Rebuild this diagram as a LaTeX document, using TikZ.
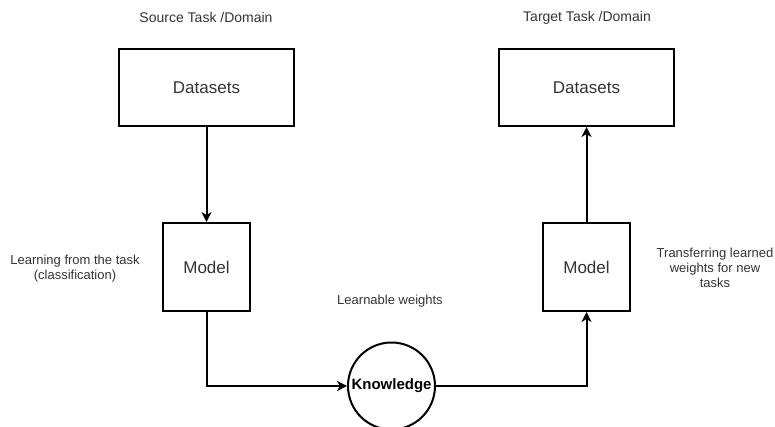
\documentclass[tikz,border=0pt]{standalone}
\usepackage{fontspec}
\setmainfont{Liberation Sans}
\usetikzlibrary{arrows.meta}

\begin{document}
\begin{tikzpicture}[x=1pt, y=-1pt,
    block/.style={draw, line width=2pt, text=black!80, font=\fontsize{17}{20}\selectfont},
    note/.style={text=black!80, font=\fontsize{13}{15}\selectfont, align=center},
    title/.style={text=black!80, font=\fontsize{14}{16}\selectfont},
    flow/.style={line width=2pt, -{Stealth[length=10pt, width=10pt, inset=3pt]}}]
    % \draw [help lines] (0,0) grid (775,427);
    \clip (0,0) rectangle (775,427);

    % source side
    \node [title] (srctitle) at (206,18) {Source Task /Domain};
    \node [block, minimum width=175pt, minimum height=77pt] (srcdata) at (206.5,87.5) {Datasets};
    \node [block, minimum width=87pt, minimum height=88pt] (srcmodel) at (206.5,267) {Model};
    \node [note] (srcnote) at (75,268.5) {Learning from the task\\(classification)};

    % target side
    \node [title] (tgttitle) at (587,18) {Target Task /Domain};
    \node [block, minimum width=175pt, minimum height=77pt] (tgtdata) at (586.5,87.5) {Datasets};
    \node [block, minimum width=87pt, minimum height=88pt] (tgtmodel) at (586.5,267) {Model};
    \node [note] (tgtnote) at (715,268) {Transferring learned\\weights for new\\tasks};

    % knowledge in the middle
    \node [draw, circle, line width=2pt, minimum size=87pt, inner sep=0pt,
           font=\fontsize{15}{18}\selectfont\bfseries] (know) at (391.5,386) {Knowledge};
    \node [note] (weights) at (390,301) {Learnable weights};

    \draw [flow] (srcdata) -- (srcmodel);
    \draw [flow] (srcmodel.south) |- (know.west);
    \draw [flow] (know.east) -| (tgtmodel.south);
    \draw [flow] (tgtmodel) -- (tgtdata);
\end{tikzpicture}
\end{document}
